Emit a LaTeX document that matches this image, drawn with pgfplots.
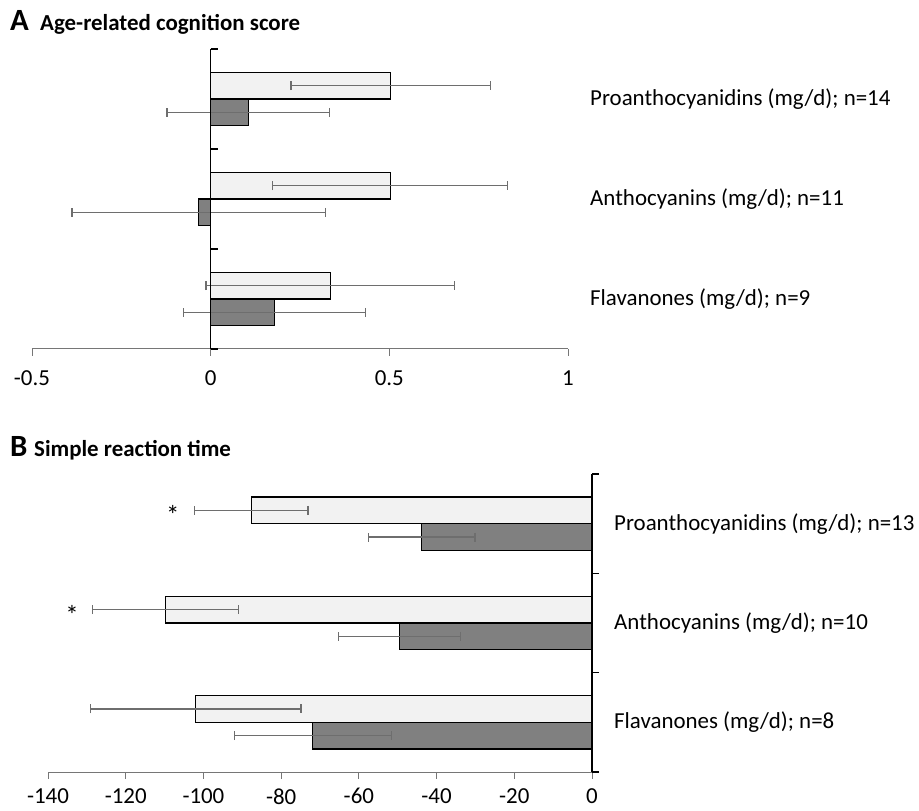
\documentclass[border=0pt]{standalone}
\usepackage{fontspec}
\setmainfont{Carlito}
\usepackage{pgfplots}
\pgfplotsset{compat=1.18}
\definecolor{axgray}{HTML}{767676}
\definecolor{errgray}{HTML}{6E6E6E}
\definecolor{lightbar}{HTML}{F2F2F2}
\definecolor{darkbar}{HTML}{808080}
\newcommand{\lbl}{\fontsize{23}{27}\selectfont}
\begin{document}
\begin{tikzpicture}
\path[use as bounding box] (0,0) rectangle (919bp,811bp);
\pgfplotsset{
  common/.style={
    scale only axis,
    anchor=south west,
    axis x line*=bottom, axis y line*=right,
    x axis line style={draw=axgray, line width=1pt},
    xtick align=outside, ytick align=outside,
    major x tick style={axgray, line width=1pt},
    major tick length=7bp, minor tick length=7bp,
    major y tick style={draw=none},
    minor y tick style={black, line width=1.2pt},
    ytick={0,1,2},
    ticklabel style={font=\lbl},
    yticklabel style={anchor=west, inner sep=0pt, xshift=15bp},
    ymin=-0.5, ymax=2.5,
    xbar, bar width=26.7bp,
    clip=false,
  },
  errs/.style={error bars/.cd, x dir=both, x explicit,
     error bar style={errgray, line width=1.2pt},
     error mark=|,
     error mark options={errgray, line width=1.2pt, mark size=4.5bp}},
  lbar/.style={fill=lightbar, draw=black, line width=1.1pt, bar shift=13.35bp, errs},
  dbar/.style={fill=darkbar, draw=black, line width=1.1pt, bar shift=-13.35bp, errs},
}
% Panel A
\node[anchor=base west, font=\fontsize{31}{34}\selectfont\bfseries, inner sep=0pt] at (10bp,780bp) {A};
\node[anchor=base west, font=\fontsize{23}{27}\selectfont\bfseries, inner sep=0pt] at (40bp,780bp) {Age-related cognition score};
\begin{axis}[common,
  at={(32bp,462bp)}, width=536bp, height=300bp,
  xmin=-0.5, xmax=1,
  xtick={-0.5,0,0.5,1}, xticklabels={-0.5,0,0.5,1},
  xticklabel style={yshift=-11bp},
  y axis line style={draw=none},
  yticklabels={Flavanones (mg/d); n=9, Anthocyanins (mg/d); n=11, Proanthocyanidins (mg/d); n=14},
]
\addplot[lbar] coordinates {(0.504,2) +- (0.279,0) (0.502,1) +- (0.328,0) (0.335,0) +- (0.348,0)};
\addplot[dbar] coordinates {(0.105,2) +- (0.227,0) (-0.033,1) +- (0.355,0) (0.178,0) +- (0.255,0)};
\draw[black, line width=1.2pt] (axis cs:0,-0.5) -- (axis cs:0,2.5);
\pgfplotsinvokeforeach{-0.5,0.5,1.5,2.5}{\draw[black, line width=1.2pt] (axis cs:0,#1) -- ([xshift=7bp]axis cs:0,#1);}
\end{axis}
% Panel B
\node[anchor=base west, font=\fontsize{31}{34}\selectfont\bfseries, inner sep=0pt] at (10bp,354bp) {B};
\node[anchor=base west, font=\fontsize{23}{27}\selectfont\bfseries, inner sep=0pt] at (34bp,354bp) {Simple reaction time};
\begin{axis}[common,
  at={(48bp,39bp)}, width=544bp, height=298bp,
  xmin=-140, xmax=0,
  xtick={-140,-120,-100,-80,-60,-40,-20,0},
  xticklabels={-140,-120,-100,-80,-60,-40,-20,0},
  xticklabel style={yshift=-6bp},
  y axis line style={draw=black, line width=1.2pt},
  minor ytick={-0.5,0.5,1.5,2.5},
  yticklabels={Flavanones (mg/d); n=8, Anthocyanins (mg/d); n=10, Proanthocyanidins (mg/d); n=13},
]
\addplot[lbar] coordinates {(-87.7,2) +- (14.6,0) (-109.7,1) +- (18.8,0) (-102.0,0) +- (27.1,0)};
\addplot[dbar] coordinates {(-43.8,2) +- (13.7,0) (-49.6,1) +- (15.7,0) (-71.9,0) +- (20.2,0)};
\node[font=\fontsize{27}{30}\selectfont, yshift=-5bp] at (axis cs:-107.9,2.134) {*};
\node[font=\fontsize{27}{30}\selectfont, yshift=-5bp] at (axis cs:-133.8,1.134) {*};
\end{axis}
\end{tikzpicture}
\end{document}
